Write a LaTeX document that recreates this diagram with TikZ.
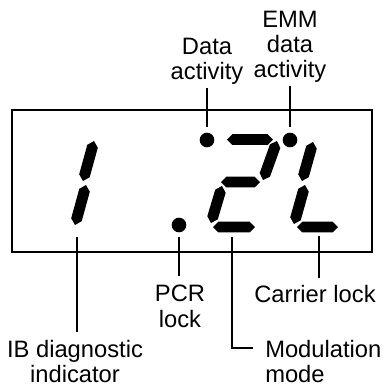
\documentclass[tikz,border=0pt]{standalone}
\usepackage{fontspec}
\setmainfont{Liberation Sans}
\usetikzlibrary{calc}

% one bar of the seven-segment display, tip to tip
\newcommand\lcdbar[2]{%
  \fill let \p1=#1, \p2=#2, \n1={atan2(\y2-\y1,\x2-\x1)} in
    (\p1) -- ++(\n1+45:5.8pt) -- ($(\p2)+(\n1+135:5.8pt)$) -- (\p2)
    -- ++(\n1-135:5.8pt) -- ($(\p1)+(\n1-45:5.8pt)$) -- cycle;}

\begin{document}
\begin{tikzpicture}[x=0.75pt,y=-0.75pt,
    lbl/.style={inner sep=0pt,align=center,font=\fontsize{17.8}{19}\selectfont},
    lcddot/.style={circle,fill,inner sep=0pt,minimum size=11pt},
    leader/.style={line width=2pt}]
    \useasboundingbox (0,0) rectangle (383,390);

    % display window
    \draw[line width=1.5pt] (12,110) rectangle (372,252);

    % digit 1
    \lcdbar{(94,141)}{(83,181)}
    \lcdbar{(86,185)}{(75,225)}

    % digit 2
    \lcdbar{(227,139.5)}{(273,139.5)}
    \lcdbar{(277,141)}{(263,180)}
    \lcdbar{(221,182)}{(260,182)}
    \lcdbar{(222,186)}{(211,223)}
    \lcdbar{(213,227)}{(255,227)}

    % letter L
    \lcdbar{(313,142)}{(302,181)}
    \lcdbar{(305,185)}{(294,224)}
    \lcdbar{(297,227)}{(338,227)}

    % indicator dots
    \node[lcddot] (dotdata) at (207,140) {};
    \node[lcddot] (dotemm) at (290,140) {};
    \node[lcddot] (dotpcr) at (179,225) {};

    % labels
    \node[lbl,anchor=north] (dataact) at (207,38) {Data\\activity};
    \node[lbl,anchor=north] (emmact) at (290,10.7) {EMM\\data\\activity};
    \node[lbl,anchor=north] (pcrlock) at (180,285) {PCR\\lock};
    \node[lbl,anchor=north] (carrier) at (315,285) {Carrier lock};
    \node[lbl,anchor=north] (ibdiag) at (75,340) {IB diagnostic\\indicator};
    \node[lbl,anchor=north west,align=left] (modmode) at (265,340) {Modulation\\mode};

    % leader lines
    \coordinate (ibtip) at (77,237);
    \coordinate (modtip) at (232,237);
    \coordinate (cartip) at (319,236);

    \draw[leader,shorten <=2pt,shorten >=4pt] (dataact.south) -- (dotdata.north);
    \draw[leader,shorten <=2pt,shorten >=4pt] (dotemm.north |- emmact.south) -- (dotemm.north);
    \draw[leader,shorten <=3pt,shorten >=6.75pt] (dotpcr.south) -- (dotpcr.south |- pcrlock.north);
    \draw[leader,shorten >=6pt] (ibtip) -- (ibtip |- ibdiag.north);
    \draw[leader,shorten >=5pt] (cartip) -- (cartip |- carrier.north);
    \draw[leader] (modtip) |- ($(modmode.north west)+(-12,8)$);
\end{tikzpicture}
\end{document}
